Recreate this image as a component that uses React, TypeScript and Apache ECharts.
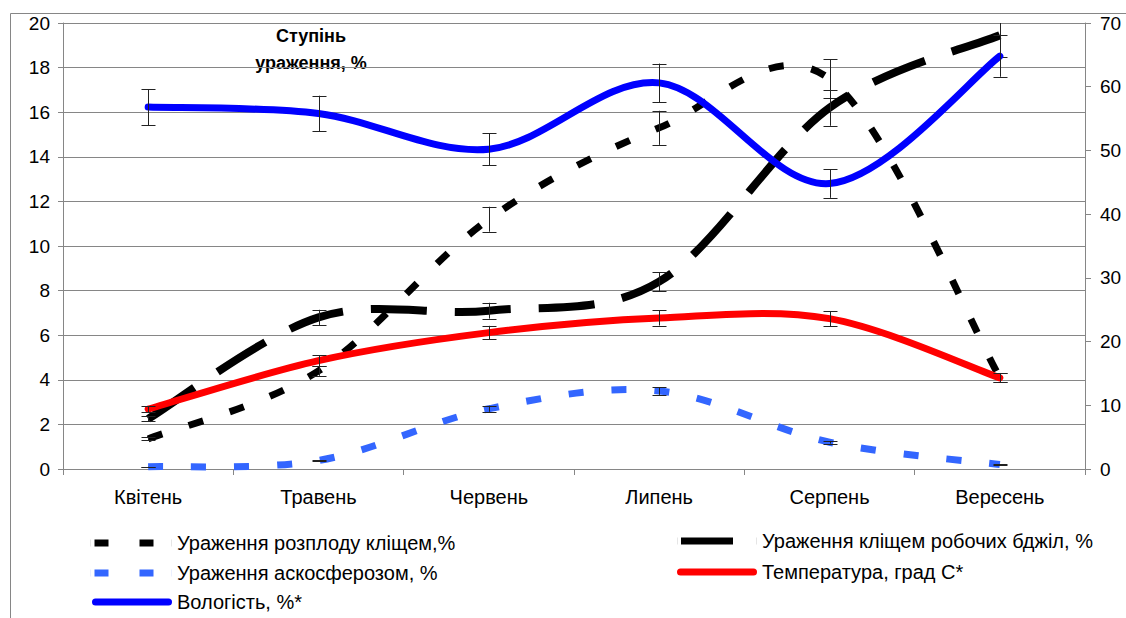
import React, { useEffect, useRef } from "react";
import * as echarts from "echarts";

const months = ["Квітень", "Травень", "Червень", "Липень", "Серпень", "Вересень"];
const broodMite = [1.35, 4.4, 11.2, 15.3, 17.5, 4.1];
const workerMite = [2.25, 6.8, 7.1, 8.4, 16.2, 19.45];
const ascosphere = [0.1, 0.38, 2.7, 3.5, 1.2, 0.2];
const temperature = [9.4, 17.0, 21.4, 23.7, 23.6, 14.3];
const humidity = [56.8, 55.8, 50.2, 60.6, 44.8, 64.8];

const leftAxis = { min: 0, max: 20, interval: 2 };
const rightAxis = { min: 0, max: 70, interval: 10 };
const ERROR_PCT = 0.05;

const seriesNames = [
  "Ураження розплоду кліщем,%",
  "Ураження кліщем робочих бджіл, %",
  "Ураження аскосферозом, %",
  "Температура, град С*",
  "Вологість, %*",
];
const axisTitle = "Ступінь\nураження, %";

const FONT = "'Liberation Sans', Arial, sans-serif";

function smoothPath(pts: number[][]): string {
  let d = `M${pts[0][0]},${pts[0][1]}`;
  for (let i = 0; i < pts.length - 1; i++) {
    const p0 = pts[i - 1] || pts[i];
    const p1 = pts[i];
    const p2 = pts[i + 1];
    const p3 = pts[i + 2] || p2;
    const c1x = p1[0] + (p2[0] - p0[0]) / 6;
    const c1y = p1[1] + (p2[1] - p0[1]) / 6;
    const c2x = p2[0] - (p3[0] - p1[0]) / 6;
    const c2y = p2[1] - (p3[1] - p1[1]) / 6;
    d += ` C${c1x},${c1y} ${c2x},${c2y} ${p2[0]},${p2[1]}`;
  }
  return d;
}

function makeSeries(
  name: string,
  values: number[],
  yAxisIndex: number,
  color: string,
  width: number,
  dash: number[] | null,
  cap: string
) {
  return {
    type: "custom",
    name,
    xAxisIndex: 0,
    yAxisIndex,
    data: values.map((v, i) => [i, v]),
    encode: { x: 0, y: 1 },
    itemStyle: { color },
    renderItem: (params: any, api: any) => {
      const i = params.dataIndex;
      const cs = params.coordSys;
      const children: any[] = [];
      if (i === 0) {
        const pts = values.map((v, k) => api.coord([k, v]));
        children.push({
          type: "path",
          shape: { pathData: smoothPath(pts) },
          style: {
            fill: "none",
            stroke: color,
            lineWidth: width,
            lineDash: dash || undefined,
            lineCap: cap,
            lineJoin: "round",
          },
        });
      }
      const v = values[i];
      const c = api.coord([i, v]);
      const hi = api.coord([i, v * (1 + ERROR_PCT)])[1];
      const lo = api.coord([i, v * (1 - ERROR_PCT)])[1];
      const yTop = Math.max(hi, cs.y);
      const yBot = Math.min(lo, cs.y + cs.height);
      const x = Math.round(c[0]) + 0.5;
      const eb = { stroke: "#222", lineWidth: 1, fill: "none" };
      children.push({ type: "line", shape: { x1: x, y1: yTop, x2: x, y2: yBot }, style: eb });
      if (hi >= cs.y) {
        const y = Math.round(hi) + 0.5;
        children.push({ type: "line", shape: { x1: x - 7, y1: y, x2: x + 7, y2: y }, style: eb });
      }
      if (lo <= cs.y + cs.height) {
        const y = Math.round(lo) + 0.5;
        children.push({ type: "line", shape: { x1: x - 7, y1: y, x2: x + 7, y2: y }, style: eb });
      }
      return { type: "group", children };
    },
  };
}

const dashIcon =
  "path://M0,0h0.1v7h-0.1z M4.5,0h14v7h-14z M49.5,0h14v7h-14z M81.9,0h0.1v7h-0.1z";
const barIcon = "path://M0,0h0.1v7h-0.1z M4,0h52v7h-52z M79.9,0h0.1v7h-0.1z";
const roundIcon = "path://M3.5,0 H76.5 A3.5,3.5 0 0 1 76.5,7 H3.5 A3.5,3.5 0 0 1 3.5,0 Z";

function legendItem(name: string, icon: string, color: string, left: number, top: number, w: number) {
  return {
    show: true,
    left,
    top,
    padding: 0,
    itemWidth: w,
    itemHeight: 7,
    selectedMode: false,
    symbolKeepAspect: false,
    textStyle: { color: "#000", fontSize: 20, fontFamily: FONT },
    data: [{ name, icon, itemStyle: { color } }],
  };
}

export default function App() {
  const ref = useRef<HTMLDivElement>(null);
  useEffect(() => {
    if (!ref.current) return;
    const chart = echarts.init(ref.current, null, { renderer: "svg" });
    const gray = "#868686";
    const option: any = {
      animation: false,
      backgroundColor: "#fff",
      grid: { left: 63, right: 41, top: 23, bottom: 149, containLabel: false },
      xAxis: {
        type: "category",
        data: months,
        boundaryGap: true,
        axisLine: { show: true, lineStyle: { color: gray, width: 1 } },
        axisTick: { show: true, length: 6, lineStyle: { color: gray } },
        axisLabel: { color: "#000", fontSize: 20, fontFamily: FONT, margin: 18 },
        splitLine: { show: false },
      },
      yAxis: [
        {
          type: "value",
          min: leftAxis.min,
          max: leftAxis.max,
          interval: leftAxis.interval,
          position: "left",
          axisLine: { show: true, lineStyle: { color: gray } },
          axisTick: { show: true, length: 5, lineStyle: { color: gray } },
          axisLabel: { color: "#000", fontSize: 19, fontFamily: FONT, margin: 13 },
          splitLine: { show: true, lineStyle: { color: gray, width: 1 } },
        },
        {
          type: "value",
          min: rightAxis.min,
          max: rightAxis.max,
          interval: rightAxis.interval,
          position: "right",
          axisLine: { show: true, lineStyle: { color: gray } },
          axisTick: { show: true, length: 6, lineStyle: { color: gray } },
          axisLabel: { color: "#000", fontSize: 19, fontFamily: FONT, margin: 15 },
          splitLine: { show: false },
        },
      ],
      legend: [
        legendItem(seriesNames[0], dashIcon, "#000", 90, 533, 82),
        legendItem(seriesNames[1], barIcon, "#000", 677, 531, 80),
        legendItem(seriesNames[2], dashIcon, "#3366ff", 90, 563, 82),
        legendItem(seriesNames[3], roundIcon, "#ff0000", 677, 562, 80),
        legendItem(seriesNames[4], roundIcon, "#0000ff", 92, 592, 80),
      ],
      graphic: [
        {
          type: "rect",
          shape: { x: 10.5, y: 13.5, width: 1300, height: 800 },
          style: { fill: "none", stroke: gray, lineWidth: 1 },
          silent: true,
        },
        {
          type: "text",
          x: 311,
          y: 22,
          style: {
            text: axisTitle,
            font: `bold 18px ${FONT}`,
            fill: "#000",
            textAlign: "center",
            textVerticalAlign: "top",
            lineHeight: 27,
          },
        },
      ],
      series: [
        makeSeries(seriesNames[0], broodMite, 0, "#000", 7, [15, 28], "butt"),
        makeSeries(seriesNames[1], workerMite, 0, "#000", 8, [56, 28], "butt"),
        makeSeries(seriesNames[2], ascosphere, 0, "#3366ff", 7, [15, 28], "butt"),
        makeSeries(seriesNames[3], temperature, 1, "#ff0000", 7, null, "round"),
        makeSeries(seriesNames[4], humidity, 1, "#0000ff", 7, null, "round"),
      ],
    };
    chart.setOption(option);
    return () => chart.dispose();
  }, []);
  return (
    <div
      ref={ref}
      style={{ position: "fixed", left: 0, top: 0, width: 1126, height: 618 }}
    />
  );
}
